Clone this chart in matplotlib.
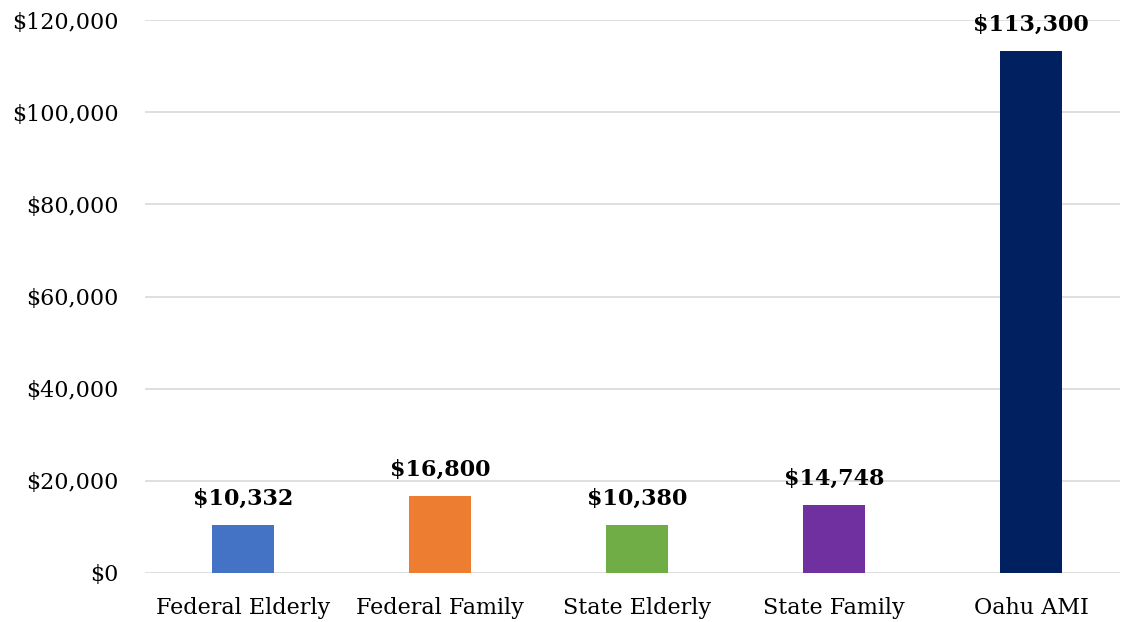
import matplotlib
matplotlib.use('Agg')
import matplotlib.pyplot as plt
from matplotlib.ticker import FuncFormatter

# Dados do grafico.
categorias = ['Federal Elderly', 'Federal Family', 'State Elderly', 'State Family', 'Oahu AMI']
valores = [10332, 16800, 10380, 14748, 113300]
cores = ['#4472C4', '#ED7D31', '#70AD47', '#7030A0', '#002060']
ticks_y = [0, 20000, 40000, 60000, 80000, 100000, 120000]

plt.rcParams['font.family'] = ['DejaVu Serif']

fig = plt.figure(figsize=(11.22, 6.22), dpi=100)
ax = fig.add_axes([145 / 1122, 1 - 573 / 622, 975 / 1122, 553 / 622])

x = list(range(len(categorias)))
ax.bar(x, valores, width=0.315, color=cores, zorder=3)

for xi, v in zip(x, valores):
    ax.annotate(f'${v:,.0f}', (xi, v), xytext=(0, 11), textcoords='offset points',
                ha='center', va='bottom', fontsize=16, fontweight='bold', color='black')

ax.set_xlim(-0.497, 4.452)
ax.set_ylim(0, 120000)
ax.set_yticks(ticks_y)
ax.yaxis.set_major_formatter(FuncFormatter(lambda v, p: f'${v:,.0f}'))
ax.set_xticks(x)
ax.set_xticklabels(categorias)
ax.tick_params(axis='both', length=0, labelsize=16, colors='black')
ax.tick_params(axis='y', pad=19)
ax.tick_params(axis='x', pad=17)

ax.grid(axis='y', color='#D9D9D9', linewidth=1.2, zorder=0)
for s in ax.spines.values():
    s.set_visible(False)

fig.savefig('out.png', dpi=100)
